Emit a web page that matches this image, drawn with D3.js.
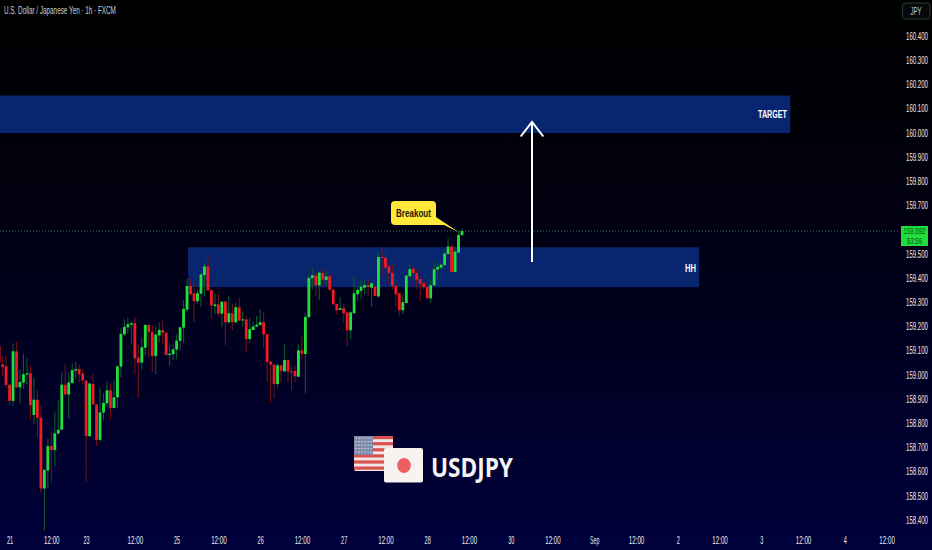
<!DOCTYPE html>
<html><head><meta charset="utf-8">
<script src="https://cdn.jsdelivr.net/npm/d3@7/dist/d3.min.js"></script>
<style>html,body{margin:0;padding:0;background:#000;overflow:hidden}svg{display:block}</style>
</head><body><div id="chart"></div>
<script>
const opens=[159.117,159.041,159.033,158.957,158.890,159.095,158.946,158.966,158.999,159.004,158.832,158.895,158.821,158.528,158.603,158.703,158.687,158.755,158.771,158.957,158.917,158.964,159.015,159.021,159.003,158.974,158.744,158.960,158.875,158.729,158.842,158.880,158.934,158.861,158.905,159.032,159.165,159.194,159.205,159.211,159.069,159.048,159.110,159.204,159.176,159.076,159.161,159.183,159.172,159.080,159.083,159.102,159.138,159.193,159.267,159.365,159.335,159.302,159.333,159.410,159.446,159.347,159.282,159.289,159.251,159.300,159.215,159.252,159.215,159.277,159.223,159.227,159.146,159.183,159.197,159.203,159.215,159.165,159.052,159.040,158.960,159.037,159.012,159.059,159.012,159.014,158.990,159.099,159.084,159.236,159.398,159.409,159.368,159.419,159.390,159.406,159.350,159.291,159.266,159.273,159.256,159.182,159.252,159.331,159.345,159.358,159.369,159.358,159.361,159.322,159.485,159.482,159.445,159.419,159.365,159.335,159.265,159.295,159.405,159.437,159.418,159.393,159.376,159.361,159.314,159.368,159.433,159.441,159.451,159.497,159.528,159.423,159.503,159.576];
const highs=[159.131,159.076,159.076,158.959,159.128,159.135,159.021,159.085,159.065,159.034,158.986,158.935,158.872,158.606,158.734,158.766,158.845,158.893,159.007,159.041,159.007,159.044,159.052,159.041,159.021,158.977,158.965,159.000,158.877,158.945,158.922,158.970,158.963,158.975,159.034,159.189,159.227,159.235,159.218,159.235,159.124,159.152,159.207,159.207,159.200,159.197,159.214,159.220,159.175,159.124,159.124,159.165,159.196,159.307,159.395,159.395,159.372,159.351,159.415,159.459,159.496,159.349,159.333,159.331,159.303,159.303,159.324,159.293,159.296,159.317,159.258,159.241,159.234,159.218,159.241,159.269,159.260,159.167,159.054,159.042,159.045,159.039,159.124,159.061,159.037,159.035,159.124,159.161,159.252,159.404,159.445,159.424,159.422,159.434,159.427,159.413,159.354,159.291,159.317,159.290,159.258,159.258,159.400,159.365,159.393,159.390,159.395,159.379,159.365,159.503,159.528,159.519,159.455,159.455,159.379,159.337,159.331,159.409,159.462,159.451,159.431,159.404,159.393,159.379,159.393,159.466,159.459,159.462,159.510,159.561,159.530,159.528,159.592,159.600];
const lows=[159.041,158.993,158.945,158.873,158.869,158.945,158.880,158.941,158.959,158.814,158.794,158.738,158.514,158.353,158.528,158.553,158.621,158.752,158.771,158.908,158.817,158.961,158.982,158.966,158.959,158.557,158.744,158.872,158.704,158.721,158.809,158.864,158.814,158.858,158.861,158.989,159.158,159.169,159.127,159.000,158.902,159.021,159.079,159.073,159.010,159.000,159.131,159.128,159.079,159.035,159.059,159.062,159.097,159.128,159.258,159.327,159.216,159.293,159.278,159.321,159.344,159.230,159.248,159.238,159.196,159.121,159.211,159.183,159.211,159.219,159.197,159.092,159.128,159.183,159.197,159.203,159.108,158.968,158.883,158.901,158.945,158.966,159.011,158.968,158.935,158.966,158.990,159.062,158.922,159.234,159.351,159.324,159.306,159.372,159.365,159.347,159.288,159.248,159.265,159.214,159.117,159.145,159.252,159.303,159.310,159.331,159.324,159.280,159.322,159.317,159.406,159.406,159.372,159.351,159.280,159.244,159.248,159.294,159.402,159.365,159.351,159.303,159.354,159.310,159.294,159.365,159.393,159.434,159.450,159.496,159.420,159.420,159.503,159.572];
const closes=[159.048,159.030,158.956,158.890,159.095,158.946,158.968,159.000,159.004,158.872,158.895,158.820,158.528,158.606,158.703,158.687,158.756,158.771,158.957,158.917,158.966,159.017,159.021,159.000,158.975,158.745,158.962,158.875,158.729,158.843,158.882,158.934,158.861,158.905,159.033,159.167,159.196,159.207,159.211,159.066,159.048,159.112,159.204,159.175,159.076,159.164,159.183,159.171,159.080,159.085,159.103,159.139,159.194,159.270,159.365,159.331,159.303,159.335,159.413,159.446,159.347,159.285,159.289,159.251,159.300,159.215,159.252,159.216,159.277,159.222,159.227,159.146,159.186,159.198,159.205,159.215,159.165,159.051,159.040,158.960,159.037,159.014,159.059,159.012,159.009,158.992,159.099,159.085,159.237,159.399,159.409,159.368,159.420,159.391,159.404,159.349,159.289,159.265,159.273,159.252,159.182,159.256,159.335,159.349,159.362,159.369,159.361,159.376,159.324,159.485,159.482,159.441,159.419,159.365,159.331,159.265,159.298,159.408,159.434,159.418,159.391,159.375,159.360,159.314,159.368,159.434,159.444,159.453,159.499,159.528,159.423,159.507,159.576,159.592];

const priceTicks=[160.4,160.3,160.2,160.1,160.0,159.9,159.8,159.7,159.5,159.4,159.3,159.2,159.1,159.0,158.9,158.8,158.7,158.6,158.5,158.4];
const timeBars=[3,15,25,39,51,63,75,87,99,111,123,135,147,159,171,183,195,207,219,231,243,255];
const timeLabels=["21","12:00","23","12:00","25","12:00","26","12:00","27","12:00","28","12:00","30","12:00","Sep","12:00","2","12:00","3","12:00","4","12:00"];
const lastPrice=159.592, countdown="53:56";
const targetZone={top:160.152,bottom:159.997,from:-1,to:227.3,label:"TARGET"};
const hhZone={top:159.525,bottom:159.360,from:54.3,to:201.1,label:"HH"};

const W=932,H=550;
const font="'Liberation Sans','Open Sans',sans-serif";
const x=d3.scaleLinear().domain([133,255]).range([462,886.6]);
const y=d3.scaleLinear().domain([160.4,158.4]).range([35.5,519.5]);
const svg=d3.select("#chart").append("svg").attr("width",W).attr("height",H).attr("viewBox",`0 0 ${W} ${H}`);
const defs=svg.append("defs");
const g=defs.append("linearGradient").attr("id","bg").attr("x1",0).attr("x2",0).attr("y1",0).attr("y2",1);
[[0,"#000000"],[0.3,"#01010c"],[0.6,"#00001f"],[1,"#00003c"]].forEach(s=>g.append("stop").attr("offset",s[0]).attr("stop-color",s[1]));
svg.append("rect").attr("width",W).attr("height",H).attr("fill","url(#bg)");

const zones=svg.append("g");
[targetZone,hhZone].forEach(z=>{
  zones.append("rect").attr("x",x(z.from)).attr("width",x(z.to)-x(z.from)).attr("y",y(z.top)).attr("height",y(z.bottom)-y(z.top)).attr("fill","#08266f");
});

svg.append("line").attr("x1",0).attr("x2",900).attr("y1",y(lastPrice)).attr("y2",y(lastPrice))
  .attr("stroke","#3f6f5e").attr("stroke-width",1).attr("stroke-dasharray","1 2");

const candles=opens.map((o,i)=>({i,o,h:highs[i],l:lows[i],c:closes[i]}));
const cg=svg.append("g").selectAll("g").data(candles).join("g");
cg.append("line").attr("x1",d=>x(d.i)).attr("x2",d=>x(d.i)).attr("y1",d=>y(d.h)).attr("y2",d=>y(d.l))
  .attr("stroke",d=>d.c>=d.o?"#0d5a28":"#6e1218").attr("stroke-width",1.1);
cg.append("rect").attr("x",d=>x(d.i)-1.4).attr("width",2.8)
  .attr("y",d=>y(Math.max(d.o,d.c))).attr("height",d=>Math.max(1,Math.abs(y(d.o)-y(d.c))))
  .attr("fill",d=>d.c>=d.o?"#22e03c":"#ee1c22");

// text squeezed horizontally to the given width, as a real text element
function label(parent,str,px,py,w,opts){
  const o=Object.assign({anchor:"middle",fill:"#e8e8e8",size:11,weight:400,family:font},opts||{});
  const t=parent.append("text").attr("text-anchor",o.anchor).attr("fill",o.fill).attr("font-family",o.family)
    .attr("font-size",o.size).attr("font-weight",o.weight).text(str);
  const nat=t.node().getComputedTextLength()||1;
  t.attr("transform",`translate(${px},${py}) scale(${w/nat},1)`);
  return t;
}

label(svg,targetZone.label,787,118,29,{anchor:"end",fill:"#fff",weight:700,size:11});
label(svg,hhZone.label,696,272,11,{anchor:"end",fill:"#fff",weight:700,size:11});

const ag=svg.append("g").attr("stroke","#fff").attr("stroke-width",2).attr("fill","none");
ag.append("line").attr("x1",532).attr("x2",532).attr("y1",262).attr("y2",122);
ag.append("path").attr("d","M520.7,136.5L532,122L543.3,136.5");

svg.append("path").attr("fill","#ffe83a")
  .attr("d","M395,201H432Q436,201 436,205V217L458.5,232L444,225H395Q391,225 391,221V205Q391,201 395,201Z");
label(svg,"Breakout",413.5,216.5,35,{fill:"#1a1a00",weight:700,size:11});

label(svg,"U.S. Dollar / Japanese Yen · 1h · FXCM",4,14,112,{anchor:"start",fill:"#cfcfcf",size:11});

const ya=svg.append("g").attr("transform","translate(917,0)")
  .call(d3.axisRight(y).tickValues(priceTicks).tickFormat(d3.format(".3f")).tickSize(0));
ya.select(".domain").remove();
ya.selectAll("text").attr("x",null).attr("dy",null).attr("text-anchor","middle").attr("fill","#ececec").attr("font-family",font).attr("font-size",11)
  .each(function(){const nat=this.getComputedTextLength()||1;d3.select(this).attr("transform",`translate(0,3.8) scale(${22/nat},1)`);});

const xa=svg.append("g").attr("transform","translate(0,536)")
  .call(d3.axisBottom(x).tickValues(timeBars).tickFormat((d,i)=>timeLabels[i]).tickSize(0));
xa.select(".domain").remove();
xa.selectAll("text").attr("y",null).attr("dy",null).attr("text-anchor","middle").attr("fill","#ececec").attr("font-family",font).attr("font-size",11)
  .each(function(d,i){const nat=this.getComputedTextLength()||1;d3.select(this).attr("transform",`translate(0,8) scale(${timeLabels[i].length*3.1/nat},1)`);});

svg.append("rect").attr("x",902.5).attr("y",3).attr("width",27.5).attr("height",16).attr("rx",2.5).attr("fill","#07090c").attr("stroke","#1f3f38");
label(svg,"JPY",916,14.5,11,{fill:"#c8c8c8",size:10.5});

svg.append("rect").attr("x",901).attr("y",226).attr("width",27).attr("height",20).attr("fill","#22dc3c");
label(svg,d3.format(".3f")(lastPrice),914.5,234.2,22,{fill:"#0a5020",size:8.5});
label(svg,countdown,914.5,244,15,{fill:"#0a5020",size:8.5});

const us=svg.append("g");
us.append("rect").attr("x",354).attr("y",436).attr("width",39).attr("height",35).attr("rx",2).attr("fill","#f2e6e6");
d3.range(0,6).forEach(k=>us.append("rect").attr("x",354).attr("y",436+k*6.1).attr("width",39).attr("height",3.2).attr("fill","#d9524f"));
us.append("rect").attr("x",354).attr("y",436).attr("width",19).attr("height",19).attr("fill","#7f89a8");
d3.range(0,5).forEach(r=>d3.range(0,6).forEach(c=>us.append("rect").attr("x",355.5+c*3).attr("y",437.5+r*3.5).attr("width",1.2).attr("height",1.2).attr("fill","#dfe2ea")));
const jp=svg.append("g");
jp.append("rect").attr("x",384).attr("y",448).attr("width",39).attr("height",34.5).attr("rx",2).attr("fill","#f6f3f0");
jp.append("ellipse").attr("cx",404).attr("cy",465.5).attr("rx",6.8).attr("ry",7.5).attr("fill","#ef5f62");

label(svg,"USDJPY",431,476.5,82,{anchor:"start",fill:"#f4f4f4",weight:700,size:26,family:"'Open Sans',sans-serif"});
</script></body></html>
